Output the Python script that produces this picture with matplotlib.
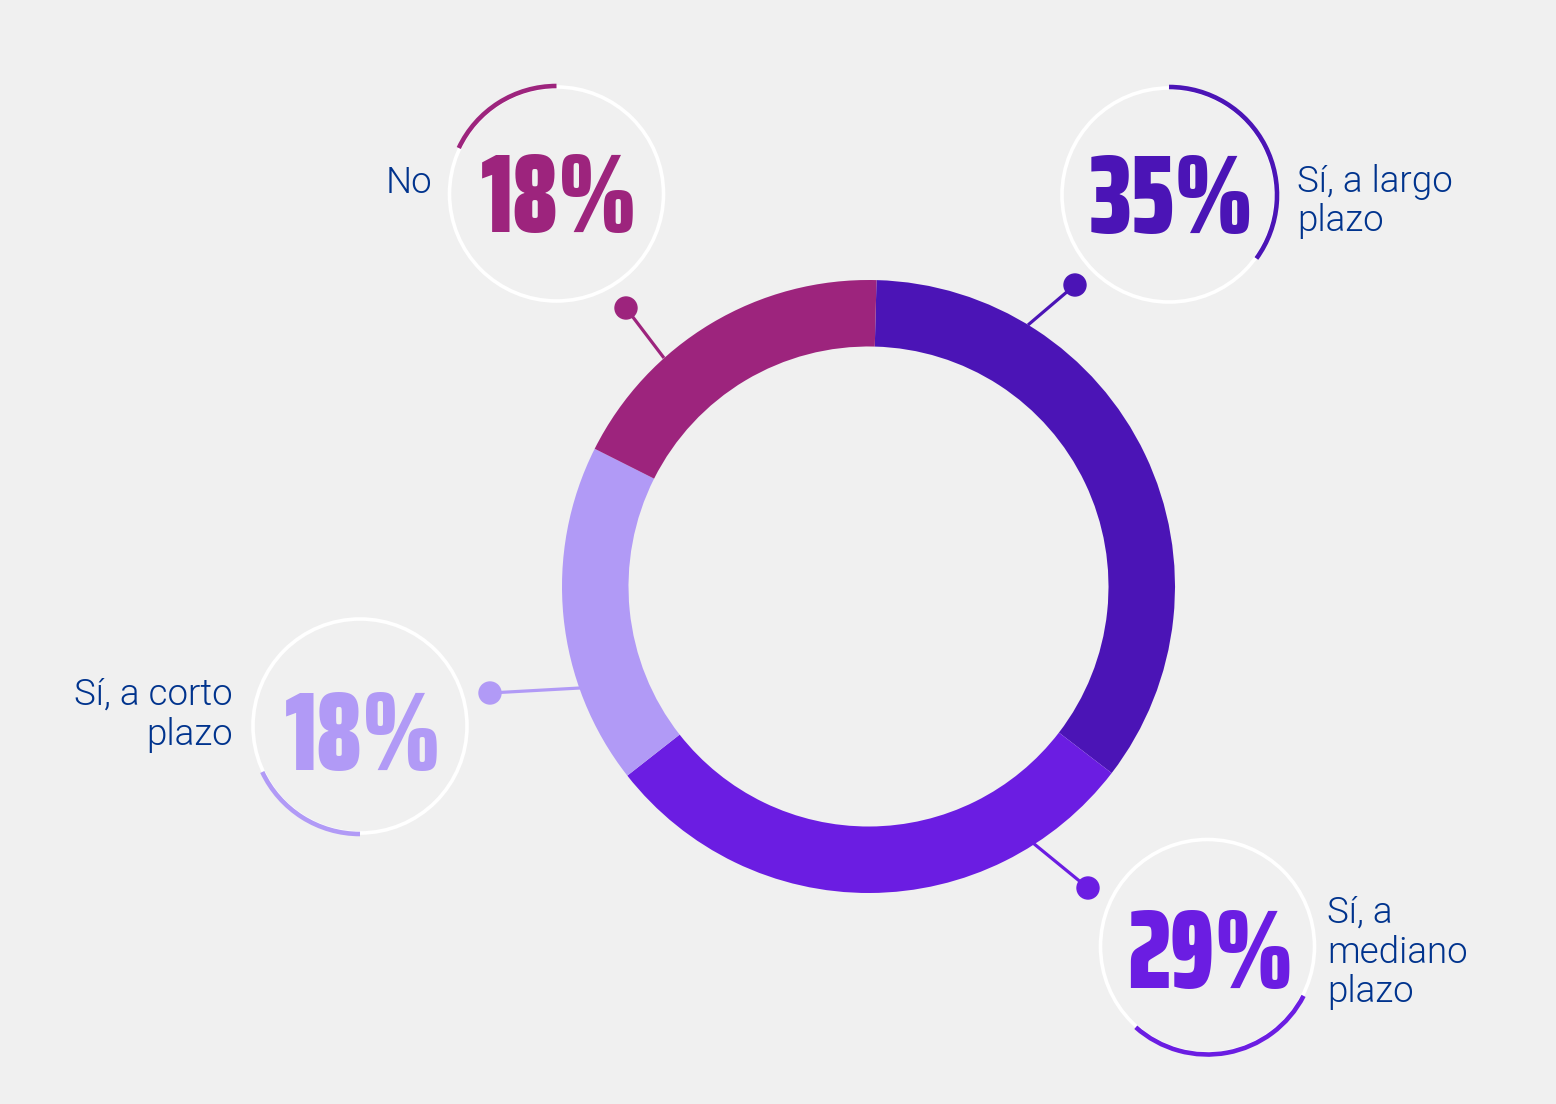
import matplotlib
matplotlib.use("Agg")
import matplotlib.pyplot as plt
from matplotlib.patches import Arc, Circle

# datos
categorias = ["Sí, a largo plazo", "Sí, a mediano plazo", "Sí, a corto plazo", "No"]
valores = [35, 29, 18, 18]
etiquetas = [["Sí, a largo", "plazo"], ["Sí, a", "mediano", "plazo"], ["Sí, a corto", "plazo"], ["No"]]
colores = ["#4b14b6", "#6b1de2", "#b19af6", "#9d247d"]

FONDO = "#f0f0f0"
AZUL = "#00338d"
W, H = 1556, 1104


def py(y):
    # coordenadas en pixeles de arriba hacia abajo
    return H - y


# posicion de cada burbuja: centro, angulo inicial del arco y si crece en sentido horario
burbujas = [
    dict(c=(1169, 195), a0=90, horario=True, base=233, lx=1297, ha="left", lineas=[192, 231]),
    dict(c=(1207.5, 946.5), a0=-131.6, horario=False, base=988, lx=1327, ha="left", lineas=[923, 963, 1002]),
    dict(c=(360, 726), a0=270, horario=True, base=770, lx=233, ha="right", lineas=[705, 745]),
    dict(c=(556.5, 194), a0=90, horario=False, base=232, lx=432, ha="right", lineas=[193]),
]
conectores = [((1028, 325), (1075, 285)), ((1033, 843), (1088, 888)),
              ((580, 688), (490, 693)), ((664, 358), (626, 308))]

fig = plt.figure(figsize=(W / 100, H / 100), dpi=100, facecolor=FONDO)
ax = fig.add_axes([0, 0, 1, 1])
ax.set_facecolor(FONDO)

# donut
ax.pie(valores, colors=colores, startangle=88.5, counterclock=False,
       radius=306.5, center=(868.5, py(586.5)),
       wedgeprops=dict(width=66.5, linewidth=0))

for i, v in enumerate(valores):
    b = burbujas[i]
    cx, cy = b["c"][0], py(b["c"][1])
    r = 107
    ax.add_patch(Circle((cx, cy), r, fill=False, ec="white", lw=2.6, zorder=3))
    span = v * 3.6
    if b["horario"]:
        t1, t2 = b["a0"] - span, b["a0"]
    else:
        t1, t2 = b["a0"], b["a0"] + span
    ax.add_patch(Arc((cx, cy), 2 * r + 2, 2 * r + 2, theta1=t1, theta2=t2,
                     color=colores[i], lw=3.3, zorder=4))

    ax.text(cx + 3, py(b["base"]), f"{v}%", ha="center", va="baseline",
            color=colores[i], fontsize=81, fontweight=900,
            family=["Saira ExtraCondensed", "DejaVu Sans"])

    for linea, yb in zip(etiquetas[i], b["lineas"]):
        ax.text(b["lx"], py(yb), linea, ha=b["ha"], va="baseline", color=AZUL,
                fontsize=26.5, fontweight=300, family=["Roboto", "DejaVu Sans"])

    (x0, y0), (x1, y1) = conectores[i]
    ax.plot([x0, x1], [py(y0), py(y1)], color=colores[i], lw=2.3, zorder=2,
            solid_capstyle="butt")
    ax.add_patch(Circle((x1, py(y1)), 11, color=colores[i], zorder=5))

ax.set_xlim(0, W)
ax.set_ylim(0, H)
ax.set_aspect("equal")
ax.axis("off")

fig.savefig("out.png", dpi=100, facecolor=FONDO)
